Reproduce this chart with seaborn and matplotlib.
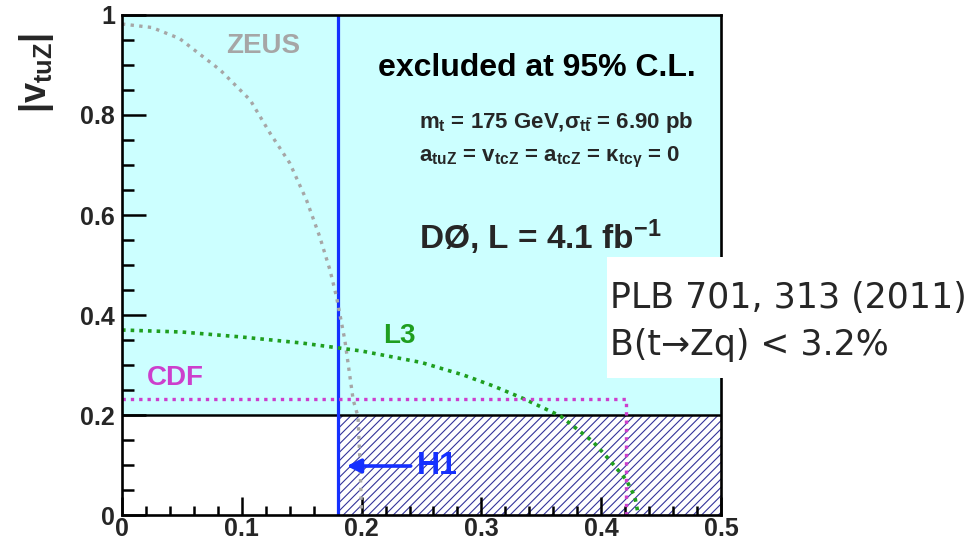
import matplotlib
matplotlib.use("Agg")
import matplotlib.pyplot as plt
import matplotlib.patches as mpatches
import numpy as np
import pandas as pd
import seaborn as sns

# ---- limits ----
zeus_x = [0.0, 0.025, 0.048, 0.082, 0.107, 0.1235, 0.140, 0.154, 0.165, 0.1736,
          0.179, 0.186, 0.193, 0.197, 0.1987, 0.200]
zeus_y = [0.982, 0.975, 0.953, 0.890, 0.830, 0.764, 0.704, 0.630, 0.557, 0.490,
          0.437, 0.350, 0.230, 0.197, 0.103, 0.0]

l3_x = [0.0, 0.05, 0.10, 0.15, 0.20, 0.25, 0.285, 0.31, 0.335, 0.366, 0.393,
        0.407, 0.421, 0.428, 0.431]
l3_y = [0.370, 0.366, 0.356, 0.344, 0.328, 0.305, 0.280, 0.258, 0.233, 0.198,
        0.147, 0.110, 0.070, 0.037, 0.0]

cdf_x = [0.0, 0.421, 0.421]
cdf_y = [0.233, 0.233, 0.0]

d0_limit = 0.20      # D0 limit on |v_tuZ|
h1_limit = 0.18      # H1 limit line
x_max, y_max = 0.5, 1.0

x_ticks = [0, 0.1, 0.2, 0.3, 0.4, 0.5]
x_tick_labels = ["0", "0.1", "0.2", "0.3", "0.4", "0.5"]
y_ticks = [0, 0.2, 0.4, 0.6, 0.8, 1.0]
y_tick_labels = ["0", "0.2", "0.4", "0.6", "0.8", "1"]

CYAN = "#ccffff"
BLUE = "#1530ff"
NAVY = "#34349a"
GRAY = "#a6a6a6"
GREEN = "#1f9e1f"
MAGENTA = "#cc3fcc"

sns.set_theme(style="ticks")
plt.rcParams["font.family"] = ["Liberation Sans", "DejaVu Sans"]
plt.rcParams["mathtext.fontset"] = "custom"
plt.rcParams["mathtext.rm"] = "Liberation Sans:bold"
plt.rcParams["mathtext.it"] = "Liberation Sans:bold"
plt.rcParams["mathtext.bf"] = "Liberation Sans:bold"
plt.rcParams["hatch.linewidth"] = 0.8

fig = plt.figure(figsize=(9.75, 5.45), dpi=100)
ax = fig.add_axes([0.1251, 0.055, 0.6144, 0.9175])
ax.set_facecolor("white")

# excluded region above the D0 limit
ax.fill_between([0, x_max], d0_limit, y_max, color=CYAN, linewidth=0, zorder=0)
# region also excluded by H1
ax.fill_between([h1_limit, x_max], 0, d0_limit, facecolor="white",
                edgecolor=NAVY, hatch="////", linewidth=0, zorder=0.5)

ax.axhline(d0_limit, color="black", lw=1.8, zorder=3)
ax.axvline(h1_limit, color=BLUE, lw=2.3, zorder=3)

zeus = pd.DataFrame({"v": zeus_x, "lim": zeus_y})
l3 = pd.DataFrame({"v": l3_x, "lim": l3_y})
cdf = pd.DataFrame({"v": cdf_x, "lim": cdf_y})

sns.lineplot(data=zeus, x="v", y="lim", ax=ax, color=GRAY, lw=2.4,
             linestyle=(0, (1, 1.6)), sort=False, estimator=None, zorder=4)
sns.lineplot(data=l3, x="v", y="lim", ax=ax, color=GREEN, lw=2.6,
             linestyle=(0, (1, 1.4)), sort=False, estimator=None, zorder=4)
sns.lineplot(data=cdf, x="v", y="lim", ax=ax, color=MAGENTA, lw=2.4,
             linestyle=(0, (1, 1.5)), sort=False, estimator=None, zorder=4)

# H1 arrow and labels
ax.annotate("", xy=(0.1876, 0.098), xytext=(0.241, 0.098),
            arrowprops=dict(arrowstyle="-|>,head_length=0.7,head_width=0.35",
                            color=BLUE, lw=2.6, shrinkA=0, shrinkB=0), zorder=5)
ax.text(0.246, 0.098, "H1", color=BLUE, fontsize=23, fontweight="bold",
        ha="left", va="center", zorder=5)
ax.text(0.087, 0.938, "ZEUS", color=GRAY, fontsize=20, fontweight="bold",
        ha="left", va="center")
ax.text(0.218, 0.358, "L3", color=GREEN, fontsize=20, fontweight="bold",
        ha="left", va="center")
ax.text(0.021, 0.274, "CDF", color=MAGENTA, fontsize=20, fontweight="bold",
        ha="left", va="center")

ax.text(0.214, 0.894, "excluded at 95% C.L.", fontsize=23, fontweight="bold",
        ha="left", va="center", color="black")
ax.text(0.248, 0.784, r"m$_\mathrm{t}$ = 175 GeV,σ$_{\mathrm{t\bar{t}}}$ = 6.90 pb",
        fontsize=16, fontweight="bold", ha="left", va="center")
ax.text(0.248, 0.716,
        r"a$_\mathrm{tuZ}$ = v$_\mathrm{tcZ}$ = a$_\mathrm{tcZ}$ = κ$_\mathrm{tcγ}$ = 0",
        fontsize=16, fontweight="bold", ha="left", va="center")
ax.text(0.248, 0.556, r"DØ, L = 4.1 fb$^\mathrm{-1}$", fontsize=24,
        fontweight="bold", ha="left", va="center")

# axes styling
ax.set_xlim(0, x_max)
ax.set_ylim(0, y_max)
ax.set_xticks(x_ticks)
ax.set_xticklabels(x_tick_labels)
ax.set_yticks(y_ticks)
ax.set_yticklabels(y_tick_labels)
ax.set_xticks(np.arange(0, 0.5001, 0.02), minor=True)
ax.set_yticks(np.arange(0, 1.0001, 0.05), minor=True)
ax.set_xlabel("")
ax.set_ylabel("")
ax.tick_params(axis="both", which="both", direction="in", top=False,
               right=False, width=1.8, color="black", labelsize=18)
ax.tick_params(axis="y", which="major", length=17.5, pad=5)
ax.tick_params(axis="y", which="minor", length=8.5)
ax.tick_params(axis="x", which="major", length=13, pad=1.5)
ax.tick_params(axis="x", which="minor", length=6.5)
for lab in ax.get_xticklabels() + ax.get_yticklabels():
    lab.set_fontweight("bold")
for sp in ax.spines.values():
    sp.set_visible(True)
    sp.set_color("black")
    sp.set_linewidth(1.9)
    sp.set_zorder(6)

ax.text(-0.142, 0.965, r"|v$_\mathrm{tuZ}$|", transform=ax.transAxes,
        rotation=90, fontsize=26, fontweight="bold", ha="center", va="top")

# publication note box
fig.patches.append(mpatches.Rectangle((0.6226, 0.3064), 0.3774, 0.222,
                                      transform=fig.transFigure,
                                      facecolor="white", edgecolor="none",
                                      zorder=10))
fig.text(0.6256, 0.453, "PLB 701, 313 (2011)", fontsize=25,
         family=["DejaVu Sans"], ha="left", va="center", zorder=11)
fig.text(0.6256, 0.367, "B(t→Zq) < 3.2%", fontsize=25,
         family=["DejaVu Sans"], ha="left", va="center", zorder=11)

fig.savefig("out.png", dpi=100)
